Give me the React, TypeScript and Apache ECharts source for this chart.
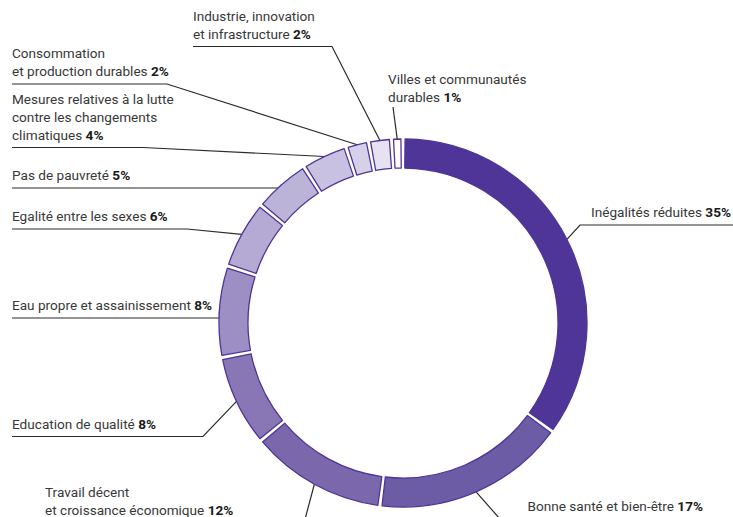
import React, { useEffect, useRef } from "react";
import * as echarts from "echarts";

const categories = [
  "Inégalités réduites",
  "Bonne santé et bien-être",
  "Travail décent\net croissance économique",
  "Education de qualité",
  "Eau propre et assainissement",
  "Egalité entre les sexes",
  "Pas de pauvreté",
  "Mesures relatives à la lutte\ncontre les changements\nclimatiques",
  "Consommation\net production durables",
  "Industrie, innovation\net infrastructure",
  "Villes et communautés\ndurables",
];

const values = [35, 17, 12, 8, 8, 6, 5, 4, 2, 2, 1];

const colors = [
  "#4e3597",
  "#6c5ba5",
  "#7b67ac",
  "#8977b5",
  "#9d8fc4",
  "#b4aad3",
  "#bcb3d9",
  "#c9c1e1",
  "#d6d0e9",
  "#e6e2f1",
  "#ffffff",
];

// label placement (layout only): text anchor x, underline y, bend x, align
const labelPlacement = [
  { x: 731, lineY: 225, bendX: 580, endX: 733, align: "right" },
  { x: 703, lineY: 519, bendX: 500, endX: 733, align: "right" },
  { x: 45, lineY: 523, bendX: 304, endX: 40, align: "left" },
  { x: 12, lineY: 436.5, bendX: 203, endX: 12, align: "left" },
  { x: 12, lineY: 318, bendX: 219.5, endX: 12, align: "left" },
  { x: 12, lineY: 229, bendX: 187, endX: 12, align: "left" },
  { x: 12, lineY: 188, bendX: 279, endX: 12, align: "left" },
  { x: 12, lineY: 147.5, bendX: 143, endX: 12, align: "left" },
  { x: 12, lineY: 84, bendX: 167, endX: 12, align: "left" },
  { x: 193, lineY: 46.5, bendX: 332, endX: 193, align: "left" },
  { x: 388, lineY: 107, bendX: 393, endX: 393, align: "left", noUnderline: true },
];

const FONT = "Roboto, 'Noto Sans', sans-serif";
const FS = 13.6;

export default function App() {
  const ref = useRef<HTMLDivElement>(null);

  useEffect(() => {
    document.body.style.margin = "0";
    if (!ref.current) return;
    const chart = echarts.init(ref.current, undefined, { renderer: "svg" });
    const data = categories.map((name, i) => ({
      name,
      value: values[i],
      itemStyle: { color: colors[i] },
    }));
    chart.setOption({
      animation: false,
      backgroundColor: "#ffffff",
      series: [
        {
          type: "pie",
          center: [403, 323],
          radius: [155, 184],
          startAngle: 90,
          clockwise: true,
          padAngle: 1.3,
          avoidLabelOverlap: false,
          itemStyle: { borderColor: "#4e3597", borderWidth: 1.3 },
          emphasis: { disabled: true },
          label: {
            show: true,
            position: "outside",
            formatter: (p: any) => `{n|${p.name.split("\n").join("}\n{n|")} }{b|${p.value}%}`,
            rich: {
              n: { fontSize: FS, color: "#383838", lineHeight: 18, fontFamily: FONT },
              b: { fontSize: FS, color: "#1a1a1a", fontWeight: "bold", lineHeight: 18, fontFamily: FONT },
            },
          },
          labelLine: {
            show: true,
            length: 10,
            length2: 10,
            lineStyle: { color: "#2a2a2a", width: 1.2 },
          },
          labelLayout: (params: any) => {
            const lp = labelPlacement[params.dataIndex];
            const pts = params.labelLinePoints;
            const start = pts ? pts[0] : [lp.bendX, lp.lineY];
            const line = [start, [lp.bendX, lp.lineY], [lp.endX, lp.lineY]];
            return {
              x: lp.x,
              y: lp.noUnderline ? lp.lineY - 1 : lp.lineY - 4,
              align: lp.align,
              verticalAlign: "bottom",
              labelLinePoints: line,
            };
          },
          data,
        },
      ],
    });
    return () => chart.dispose();
  }, []);

  return (
    <div
      ref={ref}
      style={{ position: "absolute", left: 0, top: 0, width: 733, height: 517 }}
    />
  );
}
